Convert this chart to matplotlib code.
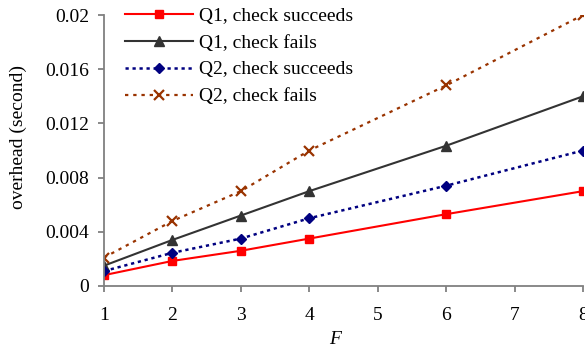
import numpy as np
import matplotlib
matplotlib.use("Agg")
import matplotlib.pyplot as plt

# data
F = [1, 2, 3, 4, 6, 8]
q1_succ = [0.0008, 0.00185, 0.0026, 0.0035, 0.0053, 0.0070]
q1_fail = [0.0015, 0.0034, 0.0052, 0.0070, 0.01035, 0.0140]
q2_succ = [0.0011, 0.00245, 0.0035, 0.0050, 0.0074, 0.0100]
q2_fail = [0.0021, 0.0048, 0.0070, 0.0100, 0.0148, 0.0200]

yticks = [0, 0.004, 0.008, 0.012, 0.016, 0.02]
ytick_labels = ["0", "0.004", "0.008", "0.012", "0.016", "0.02"]

plt.rcParams['font.family'] = ['Liberation Serif', 'DejaVu Serif']
plt.rcParams['font.size'] = 14

fig = plt.figure(figsize=(5.85, 3.47), dpi=100)
ax = fig.add_axes([104/585, 1-286/347, 479/585, 271/347])

ax.plot(F, q1_succ, color='#ff0000', lw=1.5, marker='s', ms=5.5,
        label='Q1, check succeeds')
ax.plot(F, q1_fail, color='#333333', lw=1.5, marker='^', ms=6.5,
        label='Q1, check fails')
ax.plot(F, q2_succ, color='#000080', lw=1.8, marker='D', ms=5,
        dashes=(1.3, 1.5), label='Q2, check succeeds')
ax.plot(F, q2_fail, color='#993300', lw=1.6, marker='x', ms=6.5, mew=1.6,
        dashes=(1.5, 2.2), label='Q2, check fails')

ax.set_xlim(1, 8)
ax.set_ylim(0, 0.02)
ax.set_xticks(range(1, 9))
ax.set_yticks(yticks)
ax.set_yticklabels(ytick_labels)

for s in ['top', 'right']:
    ax.spines[s].set_visible(False)
for s in ['left', 'bottom']:
    ax.spines[s].set_color('#808080')
    ax.spines[s].set_linewidth(1.3)
ax.tick_params(direction='out', color='#808080', width=1.3, length=4.5,
               labelsize=14)
ax.tick_params(axis='y', pad=6)
ax.tick_params(axis='x', pad=10.5)

ax.set_xlabel('F', style='italic')
ax.xaxis.set_label_coords(0.482, -0.165)
ax.set_ylabel('overhead (second)')
ax.yaxis.set_label_coords(-0.16, 0.55)

ax.legend(loc='upper left', bbox_to_anchor=(125/585, 1-7/347),
          bbox_transform=fig.transFigure, frameon=False,
          fontsize=14, handlelength=3.5, handletextpad=0.3,
          labelspacing=0.48, borderaxespad=0, borderpad=0)

fig.savefig('out.png', dpi=100)
